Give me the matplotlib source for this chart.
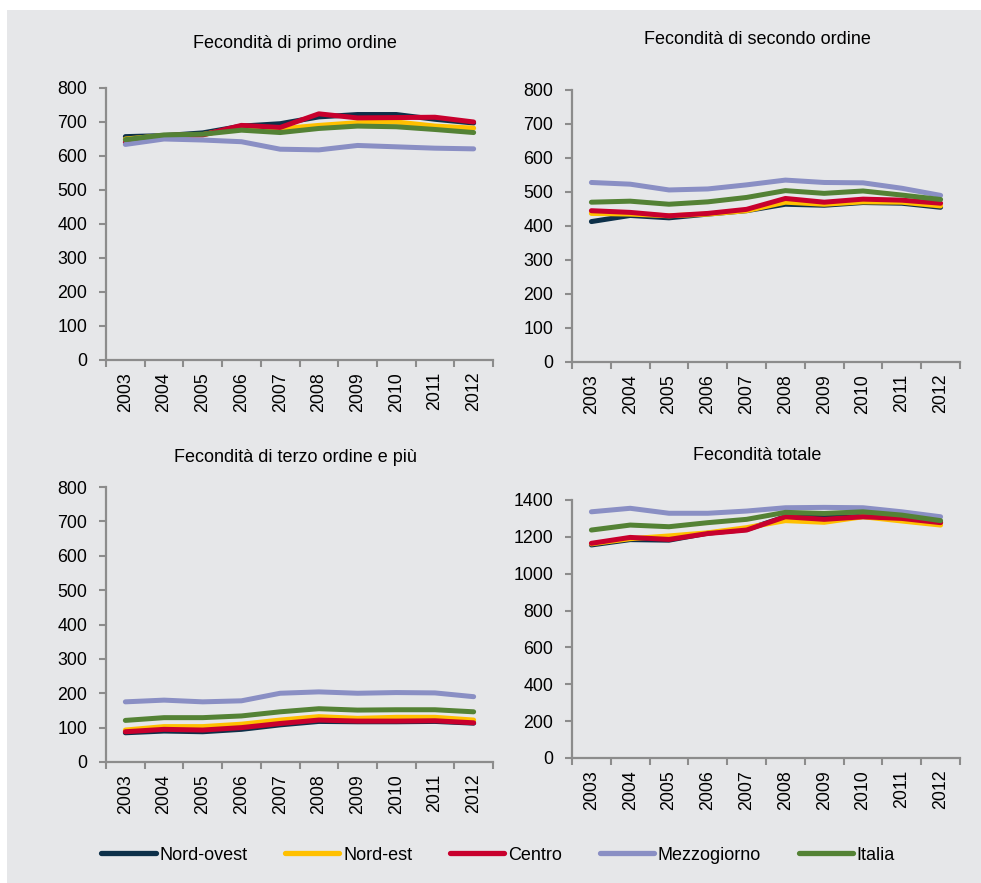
import matplotlib
matplotlib.use("Agg")
import matplotlib.pyplot as plt
from matplotlib.patches import Rectangle
from matplotlib.lines import Line2D

plt.rcParams['font.family'] = ['Liberation Sans', 'DejaVu Sans']

years = ['2003', '2004', '2005', '2006', '2007', '2008', '2009', '2010', '2011', '2012']
series_names = ['Nord-ovest', 'Nord-est', 'Centro', 'Mezzogiorno', 'Italia']
colors = ['#0d3049', '#ffc000', '#c8002d', '#8a8fc4', '#548235']

titles = ['Fecondità di primo ordine', 'Fecondità di secondo ordine',
          'Fecondità di terzo ordine e più', 'Fecondità totale']

# Primo ordine
primo_nordovest = [657, 660, 668, 688, 695, 715, 722, 722, 708, 697]
primo_nordest = [650, 660, 663, 685, 680, 690, 698, 700, 688, 682]
primo_centro = [640, 660, 662, 690, 684, 724, 712, 713, 714, 700]
primo_mezzogiorno = [634, 650, 647, 642, 620, 618, 631, 627, 623, 621]
primo_italia = [648, 662, 664, 676, 669, 681, 688, 686, 678, 669]

# Secondo ordine
secondo_nordovest = [413, 431, 424, 435, 445, 464, 461, 469, 467, 455]
secondo_nordest = [437, 435, 430, 435, 445, 470, 464, 471, 470, 459]
secondo_centro = [445, 440, 430, 437, 449, 481, 470, 479, 476, 467]
secondo_mezzogiorno = [528, 523, 506, 509, 521, 535, 528, 527, 511, 490]
secondo_italia = [470, 473, 464, 471, 484, 504, 496, 503, 491, 478]

# Terzo ordine e più
terzo_nordovest = [85, 90, 88, 95, 108, 118, 117, 117, 118, 113]
terzo_nordest = [93, 103, 103, 110, 122, 132, 127, 130, 130, 122]
terzo_centro = [88, 95, 93, 100, 112, 122, 119, 119, 120, 114]
terzo_mezzogiorno = [175, 180, 175, 178, 200, 204, 200, 202, 201, 190]
terzo_italia = [121, 129, 129, 134, 146, 155, 151, 152, 152, 146]

# Totale
totale_nordovest = [1156, 1185, 1182, 1220, 1240, 1309, 1305, 1310, 1300, 1280]
totale_nordest = [1162, 1190, 1205, 1222, 1250, 1288, 1279, 1309, 1286, 1264]
totale_centro = [1165, 1197, 1186, 1218, 1237, 1309, 1295, 1309, 1300, 1277]
totale_mezzogiorno = [1336, 1355, 1328, 1328, 1340, 1358, 1360, 1358, 1336, 1309]
totale_italia = [1237, 1264, 1255, 1277, 1295, 1333, 1327, 1336, 1318, 1288]

panels = [
    [primo_nordovest, primo_nordest, primo_centro, primo_mezzogiorno, primo_italia],
    [secondo_nordovest, secondo_nordest, secondo_centro, secondo_mezzogiorno, secondo_italia],
    [terzo_nordovest, terzo_nordest, terzo_centro, terzo_mezzogiorno, terzo_italia],
    [totale_nordovest, totale_nordest, totale_centro, totale_mezzogiorno, totale_italia],
]
ylims = [(0, 800, 100), (0, 800, 100), (0, 800, 100), (0, 1400, 200)]

W, H = 981, 883
BG = '#e6e7e9'
SP = '#8c8c8c'

fig = plt.figure(figsize=(W / 100, H / 100), dpi=100)
fig.patch.set_facecolor('white')
fig.patches.append(Rectangle((7 / W, 0), 1, 1 - 10 / H, transform=fig.transFigure,
                             facecolor=BG, edgecolor='none', zorder=-10))

# (left, top, right, bottom) in pixels
boxes = [(106, 88, 493, 360), (572, 90, 960, 362), (106, 487, 493, 762), (572, 500, 960, 758)]
title_pos = [(295, 44), (757, 40), (295, 458), (757, 456)]

for i, (l, t, r, b) in enumerate(boxes):
    ax = fig.add_axes([l / W, 1 - b / H, (r - l) / W, (b - t) / H])
    ax.set_facecolor(BG)
    ax.patch.set_alpha(0)
    x = list(range(len(years)))
    for vals, c in zip(panels[i], colors):
        ax.plot(x, vals, color=c, lw=3.6, solid_capstyle='round', solid_joinstyle='round')
    ymin, ymax, step = ylims[i]
    ax.set_ylim(ymin, ymax)
    ax.set_yticks(range(ymin, ymax + 1, step))
    ax.set_xlim(-0.5, len(years) - 0.5)
    ax.set_xticks([k - 0.5 for k in range(len(years) + 1)])
    ax.set_xticklabels([])
    ax.set_xticks(x, minor=True)
    ax.set_xticklabels(years, minor=True, rotation=90, fontsize=12.8)
    ax.tick_params(axis='x', which='minor', length=0, pad=8.5)
    ax.tick_params(axis='x', which='major', length=5, width=1.5, color=SP, direction='out')
    ax.tick_params(axis='y', length=5, width=1.5, color=SP, direction='out', labelsize=12.8, pad=8.5)
    for s in ['top', 'right']:
        ax.spines[s].set_visible(False)
    for s in ['left', 'bottom']:
        ax.spines[s].set_color(SP)
        ax.spines[s].set_linewidth(1.6)
    fig.text(title_pos[i][0] / W, 1 - title_pos[i][1] / H, titles[i], ha='center', va='center',
             fontsize=13)

handles = [Line2D([], [], color=c, lw=3.8, solid_capstyle='round') for c in colors]
fig.legend(handles, series_names, loc='center', bbox_to_anchor=(498 / W, 1 - 855 / H),
           ncol=5, frameon=False, fontsize=13, handlelength=3.0, handletextpad=0.2,
           columnspacing=2.1, borderaxespad=0)

fig.savefig('out.png', dpi=100, facecolor=fig.get_facecolor())
